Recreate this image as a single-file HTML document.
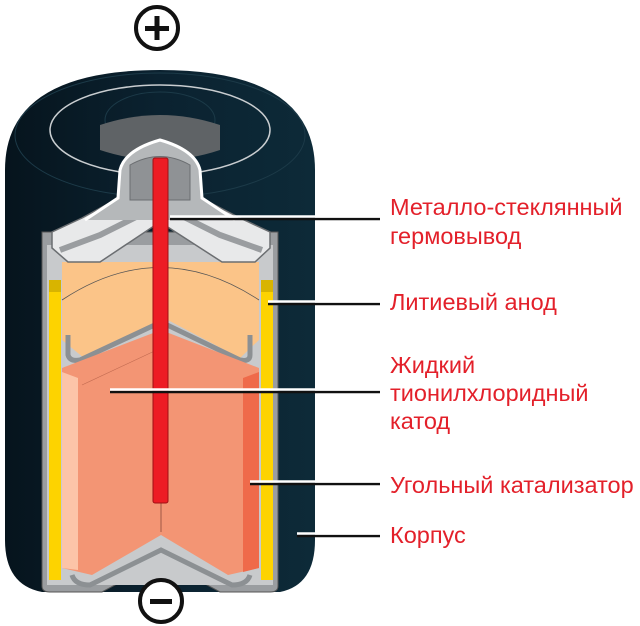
<!DOCTYPE html>
<html><head><meta charset="utf-8"><style>
html,body{margin:0;padding:0;background:#fff;width:640px;height:626px;overflow:hidden}
text{font-family:"Liberation Sans",sans-serif;fill:#e3202a;font-size:23.5px}
</style></head><body>
<svg width="640" height="626" viewBox="0 0 640 626" xmlns="http://www.w3.org/2000/svg">
<defs>
<linearGradient id="dk" x1="0" x2="1"><stop offset="0" stop-color="#06141d"/><stop offset="0.5" stop-color="#0b2230"/><stop offset="1" stop-color="#0d2a38"/></linearGradient>
</defs>
<circle cx="157" cy="28" r="21" fill="#fff" stroke="#111" stroke-width="4"/>
<rect x="145" y="26" width="24" height="5" fill="#111"/><rect x="154.5" y="16" width="5" height="24" fill="#111"/>
<path d="M5 170 Q5 70 160 70 Q315 70 315 170 L315 540 Q315 585 280 592 L42 592 Q5 585 5 540 Z" fill="url(#dk)"/>
<ellipse cx="160" cy="130" rx="110" ry="45" fill="none" stroke="#c9cdd0" stroke-width="1.5"/>
<ellipse cx="160" cy="135" rx="145" ry="62" fill="none" stroke="#1c3a48" stroke-width="1"/>
<ellipse cx="160" cy="120" rx="55" ry="28" fill="none" stroke="#1c3a48" stroke-width="1"/>
<path d="M100 150 L100 125 Q160 105 220 125 L220 150 Q160 170 100 150Z" fill="#5f6366"/>
<path d="M42 232 L278 232 L278 586 Q278 592 270 592 L220 592 L161 560 L102 592 L50 592 Q42 592 42 586 Z" fill="#9a9da0" stroke="#555" stroke-width="1"/>
<rect x="47" y="245" width="226" height="340" fill="#c8cacc"/>
<rect x="49" y="280" width="12" height="300" fill="#fdd300"/>
<rect x="261" y="280" width="12" height="300" fill="#fdd300"/>
<rect x="49" y="280" width="12" height="12" fill="#d8b400"/>
<rect x="261" y="280" width="12" height="12" fill="#d8b400"/>
<path d="M62 262 L259 262 L259 340 L240 358 L164 318 L84 358 L62 340 Z" fill="#fbc488"/>
<path d="M62 300 Q160 235 259 300" fill="none" stroke="#555" stroke-width="0.8"/>
<path d="M68 335 L68 355 Q70 362 80 360 L161 322 L240 360 Q250 362 250 355 L250 335" fill="none" stroke="#8c9093" stroke-width="5"/>
<path d="M62 368 L161 330 L259 368 L259 568 L228 575 L161 535 L92 575 L62 568 Z" fill="#f39574"/>
<path d="M62 372 L78 378 L78 570 L62 568Z" fill="#fcc4a8"/>
<path d="M243 378 L259 372 L259 568 L243 572Z" fill="#ef6a4a"/>
<path d="M82 385 L161 348" stroke="#c06a50" stroke-width="0.6"/>
<line x1="161" y1="500" x2="161" y2="532" stroke="#8a4a3a" stroke-width="0.8"/>
<path d="M72 575 Q75 585 90 585 L161 550 L232 585 Q247 585 250 575" fill="none" stroke="#8c9093" stroke-width="5"/>
<path d="M52 232 L52 248 L68 262 L100 262 L160 222 L222 262 L255 262 L270 248 L270 232 L240 218 L205 200 L160 192 L115 200 L82 218 Z" fill="#e8e9ea" stroke="#6b6e71" stroke-width="1.5"/>
<path d="M60 250 L100 235 L160 205 L220 235 L262 250" fill="none" stroke="#9a9da0" stroke-width="6"/>
<path d="M85 220 L118 198 L120 170 Q125 150 160 140 Q195 150 200 170 L202 198 L235 220" fill="#b5b8ba" stroke="#fff" stroke-width="3"/>
<path d="M130 200 L130 165 Q160 148 190 165 L190 200 Z" fill="#8f9295" stroke="#6b6e71"/>
<rect x="153" y="158" width="15" height="345" rx="2" fill="#ed1c24" stroke="#a01015" stroke-width="1"/>
<circle cx="161" cy="601" r="21" fill="#fff" stroke="#111" stroke-width="4"/>
<rect x="150" y="599" width="22" height="5" fill="#111"/>
<g stroke-width="2.5">
<line x1="170" y1="219" x2="380" y2="219" stroke="#111"/><line x1="170" y1="216.5" x2="380" y2="216.5" stroke="#fff"/>
<line x1="268" y1="304" x2="380" y2="304" stroke="#111"/><line x1="268" y1="301.5" x2="380" y2="301.5" stroke="#fff"/>
<line x1="110" y1="392" x2="380" y2="392" stroke="#111"/><line x1="110" y1="389.5" x2="380" y2="389.5" stroke="#fff"/>
<line x1="250" y1="484" x2="380" y2="484" stroke="#111"/><line x1="250" y1="481.5" x2="380" y2="481.5" stroke="#fff"/>
<line x1="297" y1="536" x2="380" y2="536" stroke="#111"/><line x1="297" y1="533.5" x2="380" y2="533.5" stroke="#fff"/>
</g>
<text x="390" y="215">Металло-стеклянный</text>
<text x="390" y="244">гермовывод</text>
<text x="390" y="310">Литиевый анод</text>
<text x="390" y="373">Жидкий</text>
<text x="390" y="401">тионилхлоридный</text>
<text x="390" y="429">катод</text>
<text x="390" y="493">Угольный катализатор</text>
<text x="390" y="543">Корпус</text>
</svg>
</body></html>
